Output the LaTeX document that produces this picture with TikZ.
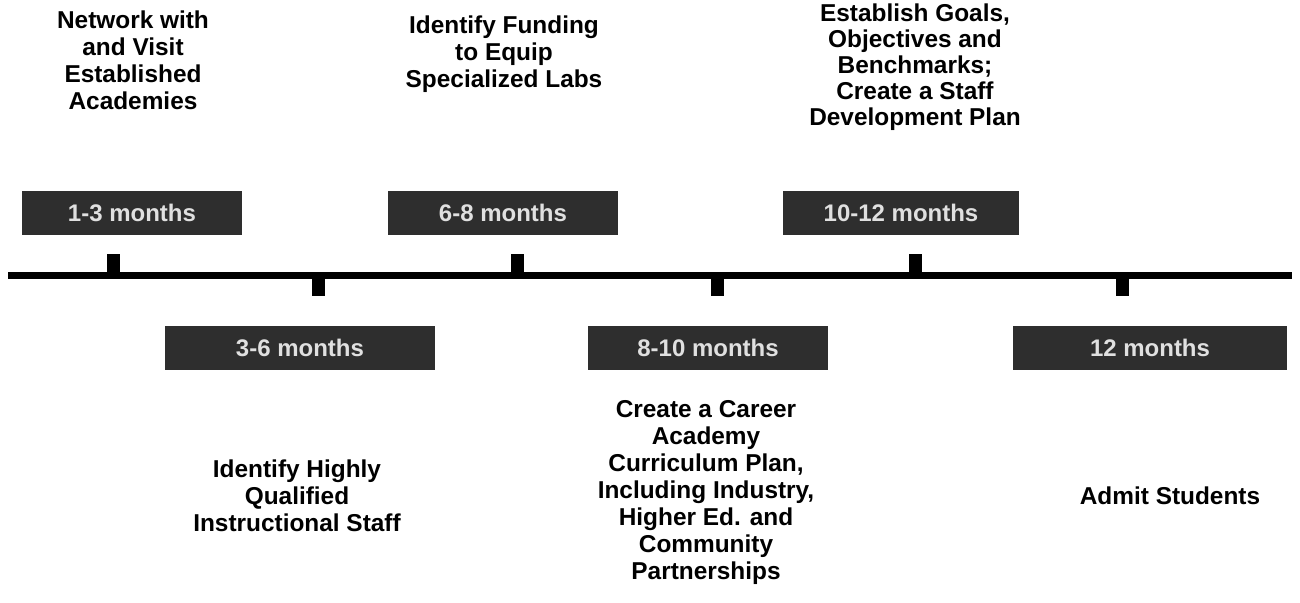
\documentclass[tikz,border=0pt]{standalone}
\usepackage{fontspec}
\setmainfont{Liberation Sans}
\usetikzlibrary{positioning}

\tikzset{
	task/.style={align=center, inner sep=0pt, font=\bfseries\fontsize{12.2}{13.5}\selectfont},
	period/.style={fill=black!82, text=black!12, inner sep=0pt, minimum height=22pt, font=\bfseries\fontsize{12}{14}\selectfont},
	marker/.style={fill=black, inner sep=0pt, minimum width=6.5pt, minimum height=11pt}
}

\begin{document}
\begin{tikzpicture}[x=0.5pt,y=-0.5pt]
	\useasboundingbox (0,0) rectangle (1300,602);

	\coordinate (start) at (8,275);
	\coordinate (end) at (1292,275);
	\draw[line width=3.5pt] (start) -- (end);

	\node[marker, anchor=south] (m1) at (113,276) {};
	\node[marker, anchor=north] (m2) at (318,274) {};
	\node[marker, anchor=south] (m3) at (517,276) {};
	\node[marker, anchor=north] (m4) at (717,274) {};
	\node[marker, anchor=south] (m5) at (915,276) {};
	\node[marker, anchor=north] (m6) at (1122,274) {};

	\node[period, minimum width=110pt] (p1) at (132,213) {1-3 months};
	\node[period, minimum width=135pt] (p2) at (300,348) {3-6 months};
	\node[period, minimum width=115pt] (p3) at (503,213) {6-8 months};
	\node[period, minimum width=120pt] (p4) at (708,348) {8-10 months};
	\node[period, minimum width=118pt] (p5) at (901,213) {10-12 months};
	\node[period, minimum width=137pt] (p6) at (1150,348) {12 months};

	\node[task] (t1) at (133,60) {Network with\\and Visit\\Established\\Academies};
	\node[task] (t2) at (504,54) {Identify Funding\\to Equip\\Specialized Labs};
	\node[task, font=\bfseries\fontsize{12.2}{13}\selectfont] (t3) at (915,67) {Establish Goals,\\Objectives and\\Benchmarks;\\Create a Staff\\Development Plan};
	\node[task] (t4) at (297,496) {Identify Highly\\Qualified\\Instructional Staff};
	\node[task] (t5) at (706,492) {Create a Career\\Academy\\Curriculum Plan,\\Including Industry,\\Higher Ed. and\\Community\\Partnerships};
	\node[task] (t6) at (1170,496) {Admit Students};
\end{tikzpicture}
\end{document}
